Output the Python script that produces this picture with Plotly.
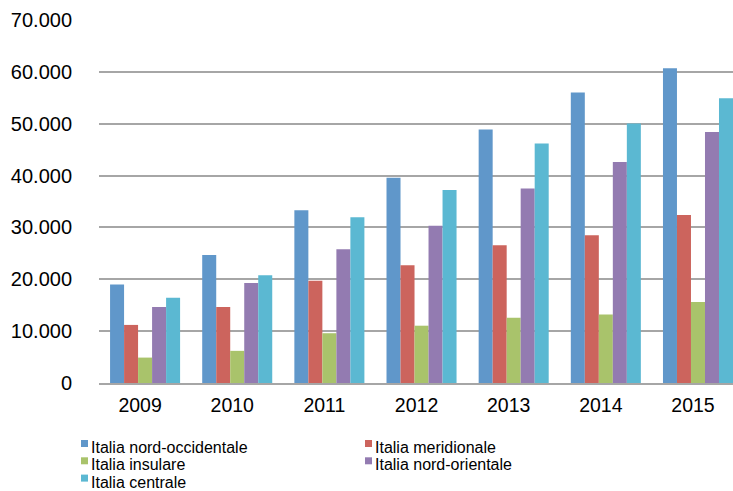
import plotly.graph_objects as go

years = ["2009", "2010", "2011", "2012", "2013", "2014", "2015"]
nord_occidentale = [19000, 24700, 33300, 39600, 48900, 56000, 60700]
meridionale = [11200, 14650, 19700, 22700, 26550, 28500, 32400]
insulare = [4900, 6200, 9600, 11050, 12600, 13200, 15600]
nord_orientale = [14650, 19300, 25800, 30300, 37500, 42600, 48400]
centrale = [16450, 20800, 31950, 37200, 46200, 50050, 54900]

series_names = ["Italia nord-occidentale", "Italia meridionale", "Italia insulare",
                "Italia nord-orientale", "Italia centrale"]
series_values = [nord_occidentale, meridionale, insulare, nord_orientale, centrale]
colors = ["#6097CA", "#CC645D", "#A9C36B", "#937BB1", "#5BB8D2"]

FONT = "Liberation Sans, Arial, Helvetica, sans-serif"

W, H = 733, 491
ML, MR, MT = 99, 0, 20
PH = 363
MB = H - MT - PH
PW = W - ML - MR


def px_x(x):
    return (x - ML) / PW


def px_y(y):
    return (MT + PH - y) / PH


fig = go.Figure()
for name, vals, col in zip(series_names, series_values, colors):
    fig.add_trace(go.Bar(x=years, y=vals, name=name, showlegend=False,
                         marker=dict(color=col, line=dict(width=0))))

# Legend drawn as layout items (two columns, row-major order)
shapes = []
annotations = []
for i, (name, col) in enumerate(zip(series_names, colors)):
    row, column = divmod(i, 2)
    sx = 81 + column * 284
    sy = 440 + row * 17.3
    shapes.append(dict(type="rect", xref="paper", yref="paper",
                       x0=px_x(sx), x1=px_x(sx + 7), y0=px_y(sy), y1=px_y(sy + 7),
                       fillcolor=col, line=dict(width=0), layer="above"))
    annotations.append(dict(xref="paper", yref="paper", x=px_x(sx + 8), y=px_y(sy + 7.5),
                            xanchor="left", yanchor="middle", showarrow=False,
                            text=name, font=dict(family=FONT, size=16, color="#000000")))

fig.update_layout(
    width=W, height=H,
    margin=dict(l=ML, r=MR, t=MT, b=MB, autoexpand=False),
    paper_bgcolor="white", plot_bgcolor="white",
    barmode="group", bargap=0.24, bargroupgap=0,
    separators=",.",
    font=dict(family=FONT, color="#000000", size=19),
    showlegend=False,
    shapes=shapes,
    annotations=annotations,
)
fig.update_xaxes(
    type="category", range=[-0.5, 6.38],
    showgrid=False, zeroline=False,
    showline=True, linecolor="#A6A6A6", linewidth=2,
    ticks="", ticklabelstandoff=4, ticklabelshift=-5,
    tickfont=dict(family=FONT, size=19.5),
)
fig.update_yaxes(
    range=[0, 70000], dtick=10000, tickformat=",d",
    showgrid=True, gridcolor="#A6A6A6", gridwidth=2,
    zeroline=False, showline=False, ticks="",
    ticklabelstandoff=26,
    tickfont=dict(family=FONT, size=20),
)

fig.write_html(
    "out.html",
    config={"displayModeBar": False},
    post_script="document.body.style.margin='0';document.body.style.overflow='hidden';"
                "document.documentElement.style.overflow='hidden';",
)
